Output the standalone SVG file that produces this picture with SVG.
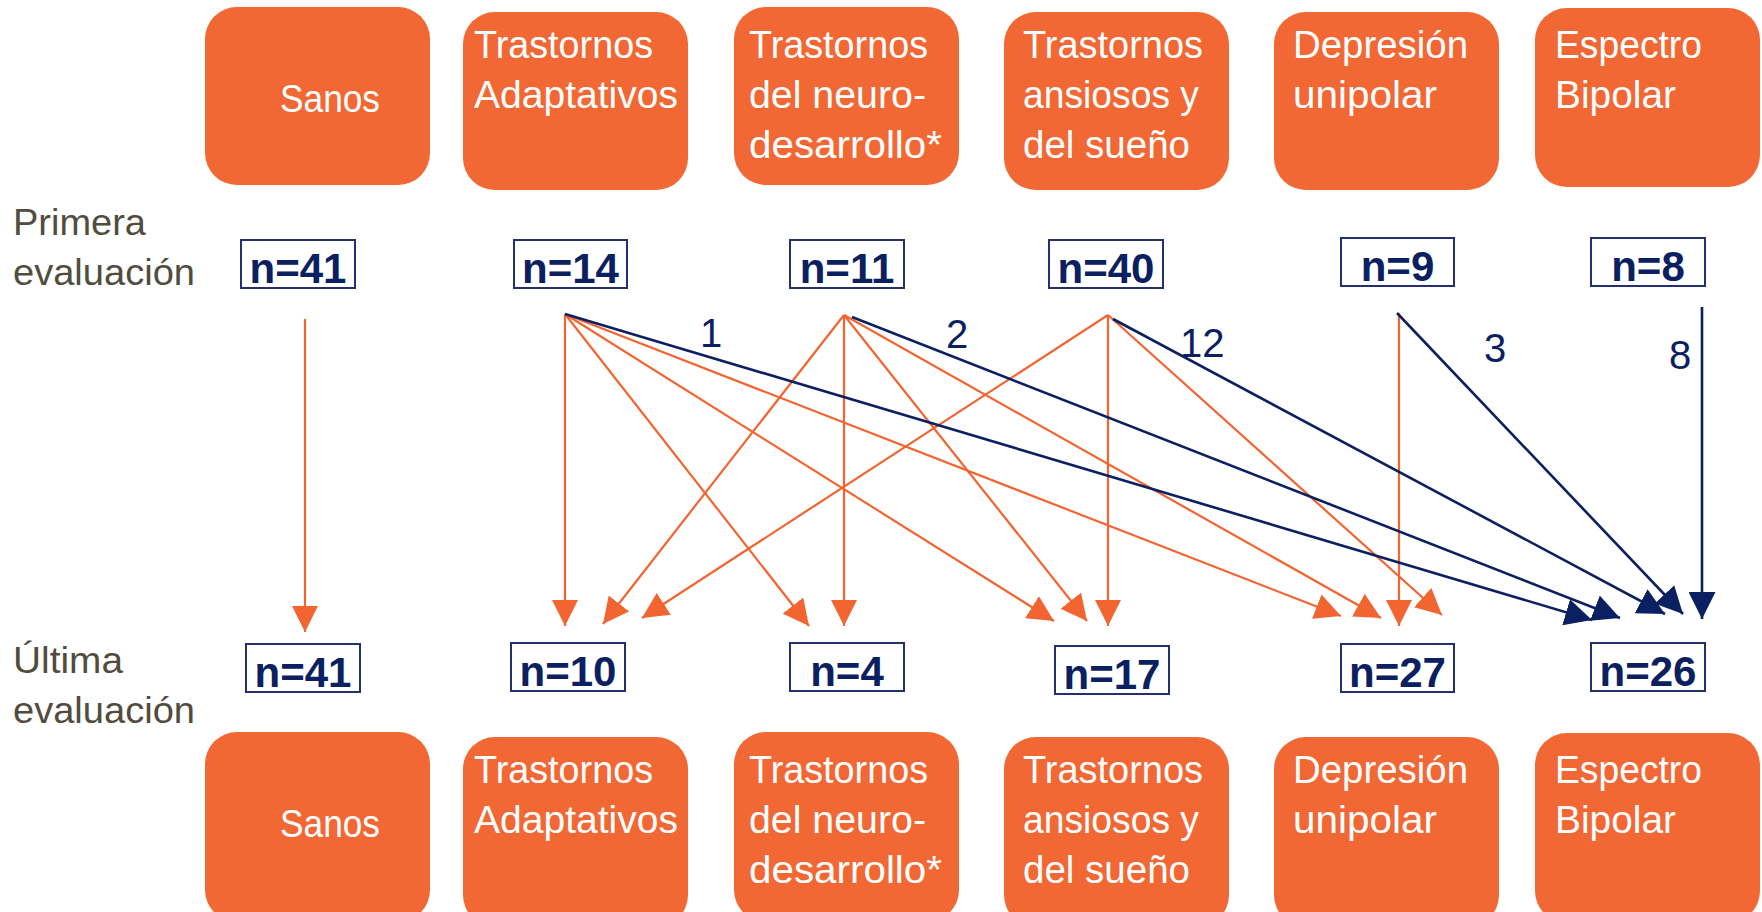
<svg xmlns="http://www.w3.org/2000/svg" width="1762" height="912" viewBox="0 0 1762 912">
<style>
.box{fill:#F26835;}
.bt{font-family:"Liberation Sans",Arial,sans-serif;font-size:38px;fill:#FFFFFF;}
.side{font-family:"Liberation Sans",Arial,sans-serif;font-size:36px;fill:#514C3E;}
.nb{fill:#FFFFFF;stroke:#24306E;stroke-width:2;}
.nt{font-family:"Liberation Sans",Arial,sans-serif;font-size:42px;font-weight:bold;fill:#0A2060;text-anchor:middle;}
.lbl{font-family:"Liberation Sans",Arial,sans-serif;font-size:40px;fill:#0A2060;}
.o{stroke:#F26531;stroke-width:2.2;fill:none;marker-end:url(#ao);}
.v{stroke:#0A2060;stroke-width:2.6;fill:none;marker-end:url(#an);}
</style>
<defs>
<marker id="ao" markerUnits="userSpaceOnUse" markerWidth="26" markerHeight="26" refX="26" refY="13" orient="auto" viewBox="0 0 26 26">
<path d="M0,0 L26,13 L0,26 z" fill="#F26531"/>
</marker>
<marker id="an" markerUnits="userSpaceOnUse" markerWidth="27" markerHeight="27" refX="27" refY="13.5" orient="auto" viewBox="0 0 27 27">
<path d="M0,0 L27,13.5 L0,27 z" fill="#0A2060"/>
</marker>
</defs>
<rect width="1762" height="912" fill="#FFFFFF"/>

<!-- side labels -->
<g id="label-primera">
<text class="side" x="13" y="235" textLength="133" lengthAdjust="spacingAndGlyphs">Primera</text>
<text class="side" x="13" y="285" textLength="182" lengthAdjust="spacingAndGlyphs">evaluación</text>
</g>
<g id="label-ultima">
<text class="side" x="13" y="673" textLength="110" lengthAdjust="spacingAndGlyphs">Última</text>
<text class="side" x="13" y="723" textLength="182" lengthAdjust="spacingAndGlyphs">evaluación</text>
</g>

<!-- top category nodes -->
<g id="top-sanos"><rect class="box" x="205" y="7" width="225" height="178" rx="32"/><text class="bt" x="280" y="112" textLength="100" lengthAdjust="spacingAndGlyphs">Sanos</text></g>
<g id="top-adaptativos"><rect class="box" x="463" y="12" width="225" height="178" rx="32"/><text class="bt" x="474" y="58" textLength="179" lengthAdjust="spacingAndGlyphs">Trastornos</text><text class="bt" x="474" y="108" textLength="204" lengthAdjust="spacingAndGlyphs">Adaptativos</text></g>
<g id="top-neuro"><rect class="box" x="734" y="7" width="225" height="178" rx="32"/><text class="bt" x="749" y="58" textLength="179" lengthAdjust="spacingAndGlyphs">Trastornos</text><text class="bt" x="749" y="108" textLength="177" lengthAdjust="spacingAndGlyphs">del neuro-</text><text class="bt" x="749" y="158" textLength="193" lengthAdjust="spacingAndGlyphs">desarrollo*</text></g>
<g id="top-ansiosos"><rect class="box" x="1004" y="12" width="225" height="178" rx="32"/><text class="bt" x="1023" y="58" textLength="180" lengthAdjust="spacingAndGlyphs">Trastornos</text><text class="bt" x="1023" y="108" textLength="176" lengthAdjust="spacingAndGlyphs">ansiosos y</text><text class="bt" x="1023" y="158" textLength="167" lengthAdjust="spacingAndGlyphs">del sueño</text></g>
<g id="top-depresion"><rect class="box" x="1274" y="12" width="225" height="178" rx="32"/><text class="bt" x="1293" y="58" textLength="175" lengthAdjust="spacingAndGlyphs">Depresión</text><text class="bt" x="1293" y="108" textLength="144" lengthAdjust="spacingAndGlyphs">unipolar</text></g>
<g id="top-bipolar"><rect class="box" x="1535" y="8" width="225" height="179" rx="32"/><text class="bt" x="1555" y="58" textLength="147" lengthAdjust="spacingAndGlyphs">Espectro</text><text class="bt" x="1555" y="108" textLength="121" lengthAdjust="spacingAndGlyphs">Bipolar</text></g>

<!-- top counts -->
<g id="n-top-sanos"><rect class="nb" x="241" y="240" width="114" height="48"/><text class="nt" x="298" y="283">n=41</text></g>
<g id="n-top-adaptativos"><rect class="nb" x="514" y="240" width="113" height="48"/><text class="nt" x="570.5" y="283">n=14</text></g>
<g id="n-top-neuro"><rect class="nb" x="790" y="240" width="114" height="48"/><text class="nt" x="847" y="283">n=11</text></g>
<g id="n-top-ansiosos"><rect class="nb" x="1049" y="240" width="114" height="48"/><text class="nt" x="1106" y="283">n=40</text></g>
<g id="n-top-depresion"><rect class="nb" x="1341" y="238" width="113" height="48"/><text class="nt" x="1397.5" y="281">n=9</text></g>
<g id="n-top-bipolar"><rect class="nb" x="1591" y="238" width="114" height="48"/><text class="nt" x="1648" y="281">n=8</text></g>

<!-- bottom counts -->
<g id="n-bot-sanos"><rect class="nb" x="246" y="644" width="114" height="48"/><text class="nt" x="303" y="687">n=41</text></g>
<g id="n-bot-adaptativos"><rect class="nb" x="511" y="643" width="114" height="48"/><text class="nt" x="568" y="686">n=10</text></g>
<g id="n-bot-neuro"><rect class="nb" x="790" y="643" width="114" height="48"/><text class="nt" x="847" y="686">n=4</text></g>
<g id="n-bot-ansiosos"><rect class="nb" x="1055" y="646" width="114" height="48"/><text class="nt" x="1112" y="689">n=17</text></g>
<g id="n-bot-depresion"><rect class="nb" x="1341" y="644" width="113" height="48"/><text class="nt" x="1397.5" y="687">n=27</text></g>
<g id="n-bot-bipolar"><rect class="nb" x="1591" y="643" width="114" height="48"/><text class="nt" x="1648" y="686">n=26</text></g>

<!-- bottom category nodes -->
<g id="bot-sanos"><rect class="box" x="205" y="732" width="225" height="190" rx="32"/><text class="bt" x="280" y="837" textLength="100" lengthAdjust="spacingAndGlyphs">Sanos</text></g>
<g id="bot-adaptativos"><rect class="box" x="463" y="737" width="225" height="190" rx="32"/><text class="bt" x="474" y="783" textLength="179" lengthAdjust="spacingAndGlyphs">Trastornos</text><text class="bt" x="474" y="833" textLength="204" lengthAdjust="spacingAndGlyphs">Adaptativos</text></g>
<g id="bot-neuro"><rect class="box" x="734" y="732" width="225" height="190" rx="32"/><text class="bt" x="749" y="783" textLength="179" lengthAdjust="spacingAndGlyphs">Trastornos</text><text class="bt" x="749" y="833" textLength="177" lengthAdjust="spacingAndGlyphs">del neuro-</text><text class="bt" x="749" y="883" textLength="193" lengthAdjust="spacingAndGlyphs">desarrollo*</text></g>
<g id="bot-ansiosos"><rect class="box" x="1004" y="737" width="225" height="190" rx="32"/><text class="bt" x="1023" y="783" textLength="180" lengthAdjust="spacingAndGlyphs">Trastornos</text><text class="bt" x="1023" y="833" textLength="176" lengthAdjust="spacingAndGlyphs">ansiosos y</text><text class="bt" x="1023" y="883" textLength="167" lengthAdjust="spacingAndGlyphs">del sueño</text></g>
<g id="bot-depresion"><rect class="box" x="1274" y="737" width="225" height="190" rx="32"/><text class="bt" x="1293" y="783" textLength="175" lengthAdjust="spacingAndGlyphs">Depresión</text><text class="bt" x="1293" y="833" textLength="144" lengthAdjust="spacingAndGlyphs">unipolar</text></g>
<g id="bot-bipolar"><rect class="box" x="1535" y="733" width="225" height="190" rx="32"/><text class="bt" x="1555" y="783" textLength="147" lengthAdjust="spacingAndGlyphs">Espectro</text><text class="bt" x="1555" y="833" textLength="121" lengthAdjust="spacingAndGlyphs">Bipolar</text></g>

<!-- connectors -->
<g id="connectors">
<line class="o" x1="305" y1="319" x2="305" y2="632"/>
<line class="o" x1="565" y1="314" x2="565" y2="626"/>
<line class="o" x1="565" y1="314" x2="809" y2="626"/>
<line class="o" x1="565" y1="314" x2="1054" y2="621"/>
<line class="o" x1="565" y1="314" x2="1341" y2="616"/>
<line class="o" x1="844" y1="315" x2="603" y2="624"/>
<line class="o" x1="844" y1="315" x2="844" y2="626"/>
<line class="o" x1="844" y1="315" x2="1087" y2="621"/>
<line class="o" x1="844" y1="315" x2="1381" y2="618"/>
<line class="o" x1="1108" y1="315" x2="642" y2="618"/>
<line class="o" x1="1108" y1="315" x2="1108" y2="626"/>
<line class="o" x1="1108" y1="315" x2="1442" y2="615"/>
<line class="o" x1="1399" y1="313" x2="1399" y2="626"/>
<line class="v" x1="565" y1="314" x2="1592" y2="620"/>
<line class="v" x1="852" y1="317" x2="1620" y2="618"/>
<line class="v" x1="1113" y1="319" x2="1665" y2="614"/>
<line class="v" x1="1397" y1="313" x2="1683" y2="614"/>
<line class="v" x1="1702" y1="307" x2="1702" y2="619"/>
<text class="lbl" x="700" y="347">1</text>
<text class="lbl" x="946" y="348">2</text>
<text class="lbl" x="1180" y="357">12</text>
<text class="lbl" x="1484" y="362">3</text>
<text class="lbl" x="1669" y="369">8</text>
</g>
</svg>
